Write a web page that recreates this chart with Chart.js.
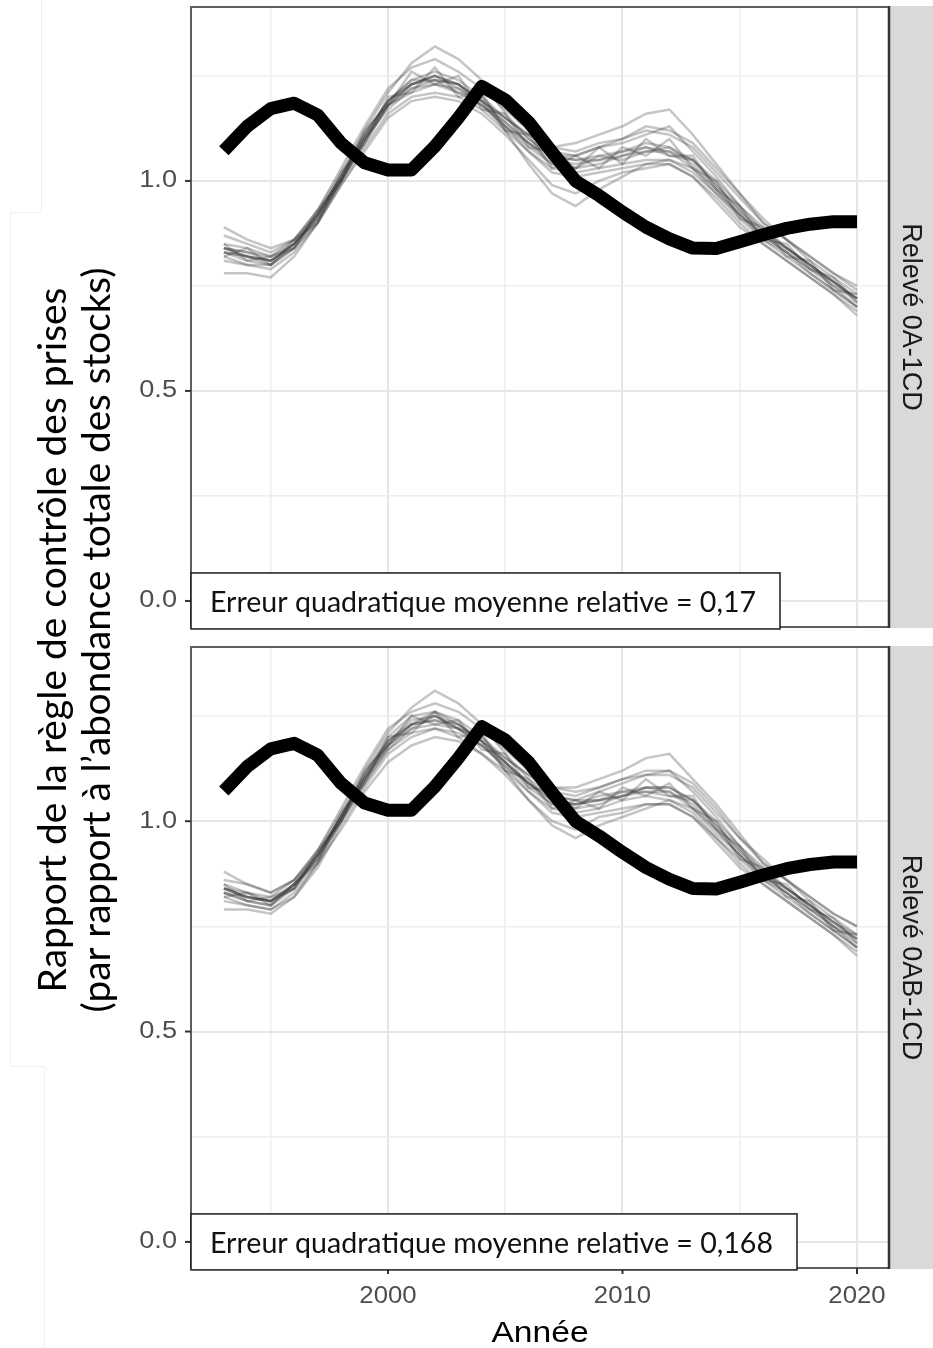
<!DOCTYPE html>
<html>
<head>
<meta charset="utf-8">
<script src="https://cdn.jsdelivr.net/npm/chart.js@4.4.1/dist/chart.umd.min.js"></script>
<style>
  html, body { margin: 0; padding: 0; background: #ffffff; }
  #wrap { position: relative; width: 933px; height: 1348px; overflow: hidden; }
  #wrap canvas { position: absolute; left: 0; top: 0; }
</style>
</head>
<body>
<div id="wrap">
  <canvas id="panelA" width="933" height="1348"></canvas>
  <canvas id="panelB" width="933" height="1348"></canvas>
</div>
<script>
// Years of the assessment series
const years = [1993,1994,1995,1996,1997,1998,1999,2000,2001,2002,2003,2004,2005,2006,2007,2008,2009,2010,2011,2012,2013,2014,2015,2016,2017,2018,2019,2020];

// Harvest-control-rule ratio (relative to total stock abundance), reference series
const tacRatio = [1.072,1.13,1.172,1.185,1.157,1.09,1.043,1.026,1.026,1.082,1.15,1.225,1.193,1.14,1.068,1.0,0.965,0.926,0.89,0.862,0.84,0.839,0.855,0.872,0.887,0.897,0.903,0.903];

// Simulated ratios, survey 0A-1CD (one row per replicate)
const runs0A1CD = [
  [0.84,0.83,0.81,0.85,0.92,1.01,1.11,1.19,1.23,1.25,1.23,1.19,1.15,1.10,1.06,1.05,1.06,1.07,1.09,1.08,1.05,0.99,0.93,0.88,0.84,0.80,0.76,0.72],
  [0.81,0.80,0.79,0.83,0.90,0.99,1.08,1.16,1.20,1.21,1.20,1.17,1.12,1.07,1.03,1.02,1.03,1.04,1.05,1.05,1.02,0.97,0.91,0.86,0.82,0.78,0.74,0.70],
  [0.87,0.85,0.83,0.86,0.93,1.03,1.13,1.22,1.27,1.29,1.26,1.22,1.17,1.12,1.08,1.07,1.09,1.10,1.12,1.11,1.08,1.02,0.96,0.90,0.86,0.82,0.78,0.74],
  [0.83,0.81,0.80,0.84,0.91,1.00,1.10,1.17,1.22,1.24,1.21,1.20,1.13,1.08,1.04,1.03,1.06,1.05,1.07,1.08,1.04,0.98,0.92,0.87,0.83,0.79,0.76,0.71],
  [0.85,0.84,0.82,0.86,0.93,1.02,1.12,1.21,1.28,1.32,1.29,1.24,1.16,1.10,1.06,1.06,1.08,1.09,1.11,1.13,1.07,1.01,0.94,0.89,0.84,0.80,0.76,0.72],
  [0.82,0.80,0.80,0.84,0.90,0.99,1.07,1.15,1.19,1.20,1.19,1.16,1.11,1.05,0.99,0.97,1.00,1.02,1.03,1.04,1.01,0.96,0.90,0.85,0.81,0.77,0.73,0.69],
  [0.84,0.82,0.81,0.85,0.92,1.01,1.10,1.19,1.24,1.24,1.23,1.18,1.14,1.09,1.05,1.04,1.05,1.06,1.08,1.07,1.05,0.99,0.93,0.87,0.84,0.80,0.75,0.72],
  [0.89,0.86,0.84,0.86,0.92,1.00,1.09,1.18,1.22,1.23,1.22,1.19,1.14,1.09,1.06,1.05,1.05,1.07,1.08,1.06,1.05,1.00,0.94,0.88,0.84,0.80,0.76,0.72],
  [0.78,0.78,0.77,0.82,0.90,1.00,1.10,1.18,1.23,1.25,1.22,1.18,1.13,1.09,1.04,1.03,1.04,1.06,1.07,1.07,1.03,0.98,0.92,0.87,0.83,0.78,0.74,0.70],
  [0.83,0.82,0.81,0.84,0.92,1.01,1.11,1.19,1.24,1.26,1.24,1.20,1.15,1.11,1.07,1.06,1.08,1.10,1.13,1.12,1.09,1.03,0.97,0.91,0.86,0.82,0.78,0.75],
  [0.84,0.83,0.82,0.85,0.91,1.00,1.09,1.18,1.21,1.23,1.21,1.18,1.13,1.07,1.02,1.01,1.02,1.03,1.04,1.04,1.01,0.95,0.89,0.85,0.81,0.77,0.73,0.68],
  [0.85,0.81,0.82,0.84,0.93,1.00,1.12,1.18,1.26,1.23,1.25,1.17,1.16,1.08,1.07,1.03,1.08,1.04,1.10,1.06,1.06,0.98,0.94,0.86,0.85,0.79,0.77,0.71],
  [0.82,0.84,0.80,0.86,0.90,1.02,1.09,1.20,1.21,1.27,1.20,1.21,1.12,1.11,1.03,1.06,1.03,1.08,1.06,1.10,1.03,1.00,0.91,0.89,0.82,0.81,0.74,0.73],
  [0.83,0.82,0.80,0.85,0.92,1.01,1.11,1.19,1.23,1.24,1.23,1.19,1.12,1.04,0.97,0.94,0.98,1.01,1.04,1.05,1.03,0.97,0.92,0.86,0.83,0.79,0.75,0.70],
  [0.84,0.82,0.81,0.85,0.91,1.00,1.10,1.18,1.23,1.25,1.23,1.19,1.15,1.11,1.08,1.09,1.11,1.13,1.16,1.17,1.11,1.04,0.97,0.90,0.86,0.81,0.77,0.73]
];

// Simulated ratios, survey 0AB-1CD (one row per replicate)
const runs0AB1CD = [
  [0.84,0.82,0.81,0.84,0.92,1.01,1.11,1.19,1.23,1.24,1.23,1.19,1.14,1.09,1.05,1.04,1.06,1.07,1.08,1.08,1.05,0.99,0.93,0.88,0.84,0.80,0.76,0.72],
  [0.81,0.80,0.79,0.82,0.89,0.99,1.08,1.16,1.20,1.22,1.20,1.16,1.12,1.07,1.03,1.02,1.03,1.05,1.06,1.05,1.02,0.96,0.91,0.86,0.82,0.78,0.74,0.70],
  [0.86,0.85,0.83,0.86,0.93,1.03,1.13,1.22,1.26,1.28,1.26,1.22,1.17,1.12,1.08,1.07,1.08,1.10,1.11,1.11,1.08,1.02,0.96,0.90,0.86,0.82,0.78,0.75],
  [0.83,0.81,0.80,0.84,0.91,1.01,1.10,1.18,1.22,1.25,1.22,1.20,1.14,1.08,1.04,1.04,1.05,1.06,1.08,1.07,1.04,0.98,0.92,0.87,0.83,0.79,0.75,0.71],
  [0.85,0.83,0.82,0.86,0.93,1.02,1.12,1.21,1.27,1.31,1.28,1.23,1.16,1.10,1.06,1.05,1.07,1.09,1.11,1.12,1.07,1.01,0.94,0.89,0.84,0.80,0.76,0.72],
  [0.82,0.80,0.79,0.83,0.90,0.98,1.07,1.14,1.18,1.20,1.19,1.16,1.11,1.05,1.00,0.98,1.01,1.02,1.04,1.04,1.01,0.96,0.90,0.85,0.81,0.77,0.73,0.69],
  [0.84,0.82,0.81,0.85,0.92,1.01,1.10,1.19,1.23,1.25,1.22,1.18,1.14,1.09,1.05,1.04,1.05,1.06,1.08,1.08,1.05,0.99,0.93,0.87,0.84,0.80,0.75,0.72],
  [0.88,0.85,0.83,0.86,0.92,1.00,1.09,1.17,1.22,1.23,1.22,1.19,1.14,1.09,1.06,1.05,1.05,1.07,1.07,1.06,1.05,1.00,0.94,0.88,0.84,0.80,0.76,0.73],
  [0.79,0.79,0.78,0.82,0.90,1.00,1.10,1.18,1.23,1.24,1.22,1.18,1.13,1.09,1.04,1.03,1.04,1.06,1.07,1.07,1.03,0.98,0.92,0.87,0.83,0.78,0.74,0.70],
  [0.83,0.82,0.81,0.84,0.92,1.01,1.11,1.20,1.25,1.26,1.24,1.20,1.15,1.11,1.07,1.06,1.08,1.10,1.12,1.12,1.09,1.03,0.96,0.91,0.86,0.82,0.78,0.75],
  [0.84,0.83,0.81,0.85,0.91,1.00,1.09,1.17,1.21,1.22,1.21,1.18,1.13,1.07,1.02,1.01,1.02,1.03,1.04,1.04,1.01,0.95,0.89,0.85,0.81,0.77,0.73,0.68],
  [0.85,0.81,0.82,0.84,0.93,1.00,1.12,1.18,1.25,1.23,1.24,1.17,1.16,1.08,1.07,1.03,1.07,1.05,1.10,1.06,1.06,0.98,0.94,0.86,0.85,0.79,0.77,0.71],
  [0.82,0.83,0.80,0.85,0.90,1.02,1.09,1.20,1.21,1.26,1.20,1.21,1.12,1.10,1.03,1.05,1.03,1.08,1.06,1.09,1.03,1.00,0.91,0.89,0.82,0.81,0.74,0.73],
  [0.83,0.81,0.80,0.85,0.92,1.01,1.11,1.19,1.24,1.25,1.23,1.19,1.12,1.05,0.99,0.96,0.99,1.01,1.03,1.05,1.03,0.97,0.92,0.86,0.83,0.79,0.75,0.70],
  [0.84,0.82,0.81,0.85,0.91,1.00,1.10,1.18,1.23,1.26,1.23,1.19,1.15,1.11,1.08,1.08,1.10,1.12,1.15,1.16,1.10,1.04,0.97,0.90,0.86,0.81,0.77,0.73]
];

// Axis ticks and grid positions
const yMajor = [0, 0.5, 1.0];
const yMinor = [0.25, 0.75, 1.25];
const yTickLabels = ['0.0', '0.5', '1.0'];
const xMajor = [2000, 2010, 2020];
const xMinor = [1995, 2005, 2015];
const xTickLabels = ['2000', '2010', '2020'];

// Facet strips and error annotations
const surveyLabels = ['Relevé 0A-1CD', 'Relevé 0AB-1CD'];
const rmseLabels = ['Erreur quadratique moyenne relative = 0,17', 'Erreur quadratique moyenne relative = 0,168'];
const xTitle = 'Année';
const yTitleLines = ['Rapport de la règle de contrôle des prises', '(par rapport à l\u2019abondance totale des stocks)'];

const X_MIN = 1991.6, X_MAX = 2021.365;
const Y_MIN = -0.062, Y_MAX = 1.414;
const CANVAS_H = 1348;

function toPoints(vals) {
  return years.map((yr, i) => ({ x: yr, y: vals[i] }));
}

// Draw text with an optional horizontal stretch (or fitted to a width)
function drawText(ctx, s, x, y, opts) {
  ctx.save();
  ctx.translate(x, y);
  if (opts.rot) ctx.rotate(opts.rot);
  ctx.font = opts.font;
  let sx = opts.sx || 1;
  if (opts.width) sx = opts.width / ctx.measureText(s).width;
  ctx.scale(sx, 1);
  ctx.fillStyle = opts.color || '#000';
  ctx.textAlign = opts.align || 'left';
  ctx.textBaseline = opts.base || 'alphabetic';
  ctx.fillText(s, 0, 0);
  ctx.restore();
}

const facetDecor = {
  id: 'facetDecor',
  afterDraw(chart, args, o) {
    const { ctx, chartArea: a } = chart;
    const xs = chart.scales.x, ys = chart.scales.y;

    // panel border
    ctx.save();
    ctx.strokeStyle = '#5e5e5e';
    ctx.lineWidth = 2;
    ctx.strokeRect(a.left, a.top, a.right - a.left, a.bottom - a.top);

    // facet strip
    ctx.fillStyle = '#d9d9d9';
    ctx.fillRect(a.right, a.top - 1, 60, a.bottom - a.top + 2);
    ctx.strokeStyle = '#333333';
    ctx.lineWidth = 2.5;
    ctx.beginPath();
    ctx.moveTo(a.right, a.top - 1);
    ctx.lineTo(a.right, a.bottom + 1);
    ctx.stroke();
    ctx.restore();
    drawText(ctx, o.strip, a.right + 14, (a.top + a.bottom) / 2, {
      rot: Math.PI / 2, font: '27px "Liberation Sans", Arial, sans-serif',
      color: '#1a1a1a', align: 'center', base: 'alphabetic'
    });

    // y ticks
    ctx.save();
    ctx.strokeStyle = '#333333';
    ctx.lineWidth = 2;
    yMajor.forEach((v, i) => {
      const py = ys.getPixelForValue(v);
      ctx.beginPath();
      ctx.moveTo(a.left - 6, py);
      ctx.lineTo(a.left, py);
      ctx.stroke();
      drawText(ctx, yTickLabels[i], a.left - 14, py, {
        font: '23px "Liberation Sans", Arial, sans-serif', color: '#4d4d4d',
        align: 'right', base: 'middle', sx: 1.18
      });
    });
    ctx.restore();

    // x ticks (bottom facet only)
    if (o.showX) {
      ctx.save();
      ctx.strokeStyle = '#333333';
      ctx.lineWidth = 2;
      xMajor.forEach((v, i) => {
        const px = xs.getPixelForValue(v);
        ctx.beginPath();
        ctx.moveTo(px, a.bottom);
        ctx.lineTo(px, a.bottom + 6);
        ctx.stroke();
        drawText(ctx, xTickLabels[i], px, a.bottom + 29, {
          font: '23px "Liberation Sans", Arial, sans-serif', color: '#4d4d4d',
          align: 'center', base: 'middle', sx: 1.12
        });
      });
      ctx.restore();
      drawText(ctx, xTitle, (a.left + a.right) / 2, a.bottom + 74, {
        font: '30px "Liberation Sans", Arial, sans-serif', color: '#000',
        align: 'center', base: 'alphabetic', sx: 1.12
      });
    }

    // error label anchored at y = 0
    const y0 = ys.getPixelForValue(0);
    ctx.save();
    ctx.fillStyle = '#ffffff';
    ctx.strokeStyle = '#1a1a1a';
    ctx.lineWidth = 1.5;
    ctx.fillRect(a.left, y0 - 28, o.boxRight - a.left, 56);
    ctx.strokeRect(a.left, y0 - 28, o.boxRight - a.left, 56);
    ctx.restore();
    drawText(ctx, o.rmse, a.left + 19, y0 + 11, {
      font: '29px Lato, "Open Sans", sans-serif', color: '#111111',
      align: 'left', base: 'alphabetic', width: o.rmseWidth
    });

    // shared y title (drawn once, by the top facet)
    if (o.yTitle) {
      ctx.save();
      ctx.strokeStyle = '#f0f0f0';
      ctx.lineWidth = 1;
      ctx.beginPath();
      ctx.moveTo(41.5, 0); ctx.lineTo(41.5, 212.5); ctx.lineTo(10.5, 212.5);
      ctx.lineTo(10.5, 1066.5); ctx.lineTo(44.5, 1066.5); ctx.lineTo(44.5, CANVAS_H);
      ctx.stroke();
      ctx.restore();
      drawText(ctx, yTitleLines[0], 66, 640, {
        rot: -Math.PI / 2, font: '38px Lato, "Open Sans", sans-serif', color: '#000',
        align: 'center', base: 'alphabetic', width: 705
      });
      drawText(ctx, yTitleLines[1], 110, 640, {
        rot: -Math.PI / 2, font: '38px Lato, "Open Sans", sans-serif', color: '#000',
        align: 'center', base: 'alphabetic', width: 745
      });
    }
  }
};

function buildPanel(canvasId, runs, cfg) {
  const datasets = [{
    data: toPoints(tacRatio),
    borderColor: '#000000',
    borderWidth: 13,
    pointRadius: 0,
    tension: 0,
    borderJoinStyle: 'round',
    borderCapStyle: 'butt',
    order: 0
  }];
  runs.forEach(r => datasets.push({
    data: toPoints(r),
    borderColor: 'rgba(45,45,45,0.28)',
    borderWidth: 2.5,
    pointRadius: 0,
    tension: 0,
    order: 1
  }));

  const gridColor = (major) => (c) => (c.tick && major.includes(c.tick.value)) ? '#e6e6e6' : '#eeeeee';
  const gridWidth = (major) => (c) => (c.tick && major.includes(c.tick.value)) ? 2 : 1.5;

  return new Chart(document.getElementById(canvasId), {
    type: 'line',
    data: { datasets },
    options: {
      responsive: false,
      animation: false,
      devicePixelRatio: 1,
      events: [],
      layout: { padding: { top: cfg.top, right: 44, left: 0, bottom: 0 } },
      plugins: {
        legend: { display: false },
        tooltip: { enabled: false },
        facetDecor: cfg.decor
      },
      scales: {
        x: {
          type: 'linear', min: X_MIN, max: X_MAX,
          afterBuildTicks: s => { s.ticks = xMinor.concat(xMajor).sort((p, q) => p - q).map(v => ({ value: v })); },
          afterFit: s => { s.height = CANVAS_H - cfg.bottom; },
          ticks: { display: false },
          grid: { color: gridColor(xMajor), lineWidth: gridWidth(xMajor), drawTicks: false },
          border: { display: false }
        },
        y: {
          type: 'linear', min: Y_MIN, max: Y_MAX,
          afterBuildTicks: s => { s.ticks = yMinor.concat(yMajor).sort((p, q) => p - q).map(v => ({ value: v })); },
          afterFit: s => { s.width = 191; },
          ticks: { display: false },
          grid: { color: gridColor(yMajor), lineWidth: gridWidth(yMajor), drawTicks: false },
          border: { display: false }
        }
      }
    },
    plugins: [facetDecor]
  });
}

function render() {
  buildPanel('panelA', runs0A1CD, {
    top: 7, bottom: 627,
    decor: { strip: surveyLabels[0], rmse: rmseLabels[0], rmseWidth: 546, boxRight: 780, showX: false, yTitle: true }
  });
  buildPanel('panelB', runs0AB1CD, {
    top: 647, bottom: 1268,
    decor: { strip: surveyLabels[1], rmse: rmseLabels[1], rmseWidth: 563, boxRight: 797, showX: true, yTitle: false }
  });
}

if (document.fonts && document.fonts.load) {
  Promise.all([
    document.fonts.load('38px Lato'),
    document.fonts.load('23px "Liberation Sans"')
  ]).then(render, render);
} else {
  render();
}
</script>
</body>
</html>
